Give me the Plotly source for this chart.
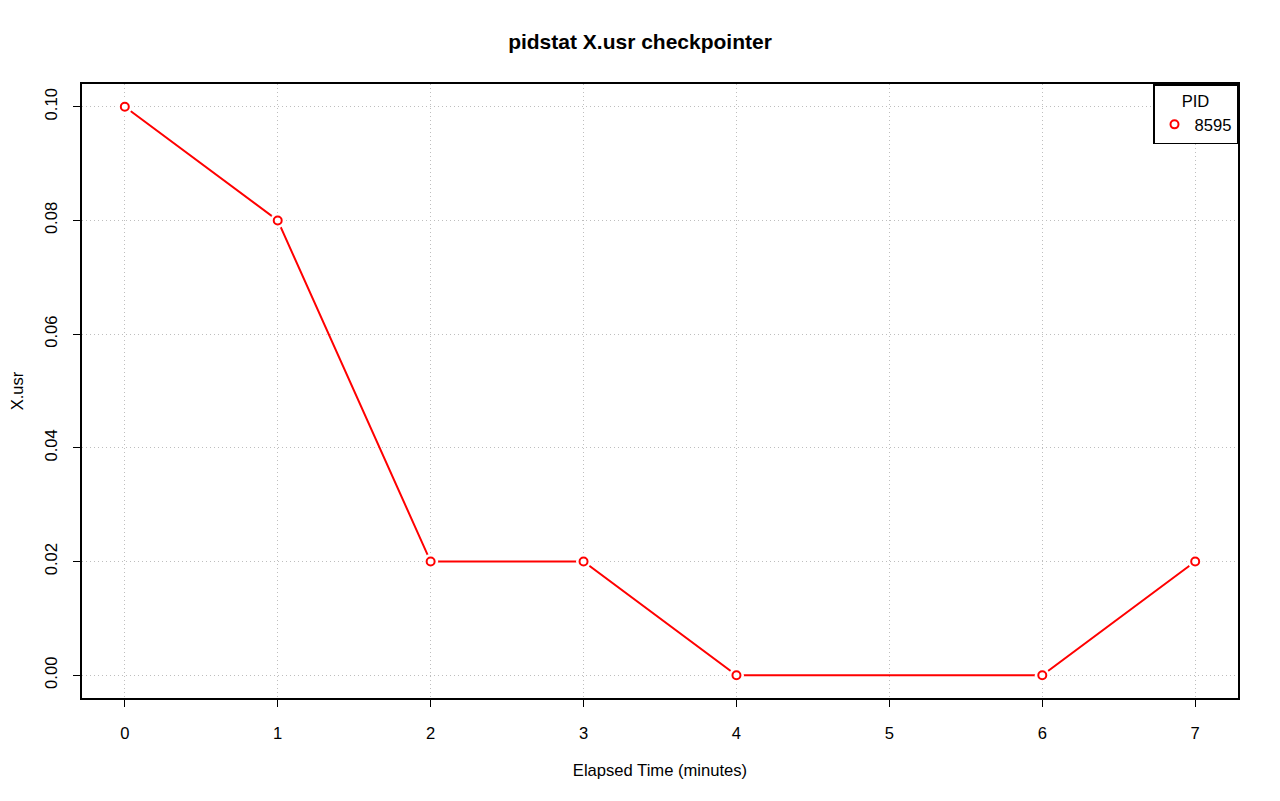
import plotly.graph_objects as go

elapsed = [0, 1, 2, 3, 4, 6, 7]
usr = [0.10, 0.08, 0.02, 0.02, 0.00, 0.00, 0.02]
pid_label = "8595"
x_ticks = [0, 1, 2, 3, 4, 5, 6, 7]
y_ticks = [0.00, 0.02, 0.04, 0.06, 0.08, 0.10]
y_tick_text = ["0.00", "0.02", "0.04", "0.06", "0.08", "0.10"]

RED = "#FF0000"
FS = 16.6
fig = go.Figure()
fig.add_trace(go.Scatter(x=elapsed, y=usr, mode="lines",
                         line=dict(color=RED, width=2), showlegend=False, hoverinfo="skip"))
fig.add_trace(go.Scatter(x=elapsed, y=usr, mode="markers",
                         marker=dict(symbol="circle", size=15, color="white", line=dict(width=0)),
                         showlegend=False, hoverinfo="skip"))
fig.add_trace(go.Scatter(x=elapsed, y=usr, mode="markers", name=pid_label,
                         marker=dict(symbol="circle-open", size=8, color=RED, line=dict(width=2, color=RED)),
                         showlegend=True))

axis_common = dict(showline=True, linecolor="black", linewidth=1.5, mirror=True,
                   ticks="outside", ticklen=7, tickcolor="black", tickwidth=1.2,
                   showgrid=True, gridcolor="#BEBEBE", gridwidth=1, griddash="1px,3px",
                   zeroline=False, automargin=False, tickfont=dict(size=FS, color="black"))

# page body has 8px default margin -> shrink figure accordingly
fig.update_layout(
    width=1272, height=793,
    paper_bgcolor="white", plot_bgcolor="white",
    font=dict(family="Liberation Sans, Arial, sans-serif", color="black"),
    margin=dict(l=74, r=42, t=76, b=103),
    title=dict(text="<b>pidstat X.usr checkpointer</b>", x=(640 - 8) / 1272, xanchor="center",
               y=1 - (42 - 8) / 793, yanchor="middle", font=dict(size=21)),
    xaxis=dict(range=[-0.28, 7.28], tickmode="array", tickvals=x_ticks,
               ticklabelstandoff=12,
               title=dict(text="Elapsed Time (minutes)", font=dict(size=FS), standoff=23),
               **axis_common),
    yaxis=dict(range=[-0.004, 0.104], tickmode="array", tickvals=y_ticks, ticktext=y_tick_text,
               tickangle=-90, ticklabelstandoff=10,
               title=dict(text="X.usr", font=dict(size=FS), standoff=24),
               **axis_common),
    legend=dict(x=1, y=1, xanchor="right", yanchor="top", bordercolor="black", borderwidth=1.5,
                bgcolor="white", font=dict(size=FS), itemwidth=30,
                title=dict(text="PID", side="top center", font=dict(size=FS))),
)

fig.write_html("out.html")
